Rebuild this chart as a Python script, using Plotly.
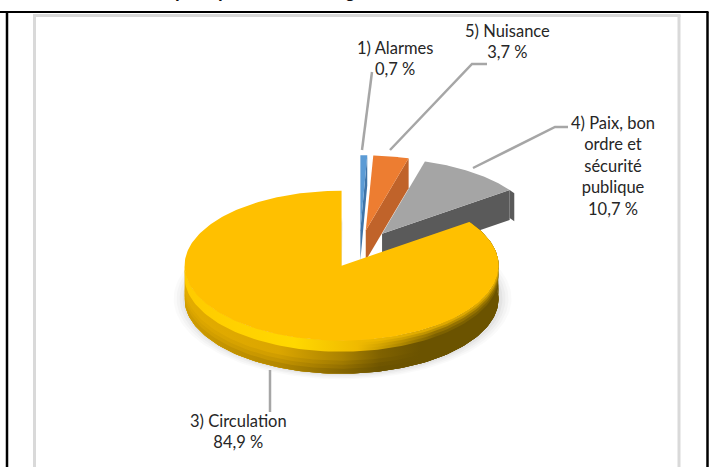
import numpy as np
import plotly.graph_objects as go

# ---- data ----
categories = ["1) Alarmes", "5) Nuisance", "4) Paix, bon<br>ordre et<br>sécurité<br>publique", "3) Circulation"]
values = [0.7, 3.7, 10.7, 84.9]
value_labels = ["0,7 %", "3,7 %", "10,7 %", "84,9 %"]
top_colors = ["#5B9BD5", "#ED7D31", "#A5A5A5", "#FFC000"]
side_colors = ["#3F74A8", "#C0632A", "#5A5A5A", "#6B5300"]

# ---- projection of the tilted pie onto the page ----
CX, CY = 359.5, 249.0   # pie centre before explosion
A, B = 157.0, 75.0      # ellipse semi-axes
DEPTH = 30.0
EXPLODE = 0.25

fig = go.Figure()


def pt(theta, cx, cy, r=1.0, dy=0.0):
    t = np.radians(theta)
    return cx + r * A * np.sin(t), cy - r * B * np.cos(t) + dy


def poly(xs, ys, color=None, grad=None):
    kw = dict(fillgradient=grad) if grad else dict(fillcolor=color)
    fig.add_trace(go.Scatter(x=list(xs) + [xs[0]], y=list(ys) + [ys[0]], mode="lines",
                             line=dict(width=0, color="rgba(0,0,0,0)"), fill="toself",
                             hoverinfo="skip", showlegend=False, **kw))


def band(t0, t1, cx, cy, d0, d1, color=None, grad=None):
    th = np.linspace(t0, t1, 120)
    x0, y0 = pt(th, cx, cy, dy=d0)
    x1, y1 = pt(th[::-1], cx, cy, dy=d1)
    poly(np.r_[x0, x1], np.r_[y0, y1], color, grad)


# slice angles
edges = np.r_[0, np.cumsum(values)] * 3.6
slices = []
for i in range(len(values)):
    t0, t1 = edges[i], edges[i + 1]
    mid = np.radians((t0 + t1) / 2)
    cx = CX + EXPLODE * A * np.sin(mid)
    cy = CY - EXPLODE * B * np.cos(mid)
    slices.append((t0, t1, cx, cy))

# soft shadow under the big slice
t0, t1, cx, cy = slices[3]
for grow, alpha in [(12, .018), (9, .022), (6, .028), (3, .035)]:
    th = np.linspace(t0, t1, 160)
    x, y = pt(th, cx + 1, cy, r=1 + grow / A, dy=DEPTH + 3)
    poly(np.r_[x, cx], np.r_[y, cy + DEPTH], f"rgba(0,0,0,{alpha})")

# side walls of the three small slices: cut face along the trailing edge
for i in [2, 0, 1]:
    t0, t1, cx, cy = slices[i]
    xe, ye = pt(t1, cx, cy)
    poly([cx, xe, xe, cx], [cy, ye, ye + DEPTH, cy + DEPTH], side_colors[i])
    if i == 2:
        band(t1, t1 + 3, cx, cy, 0, DEPTH - 2, side_colors[i])
    th = np.linspace(t0, t1, 60)
    x, y = pt(th, cx, cy)
    poly(np.r_[cx, x], np.r_[cy, y], top_colors[i])

# big slice: wall with soft darkening to the foot, soft bevel steps, top
t0, t1, cx, cy = slices[3]
for d_top, scale in [
    (0, [[0, "#E3AC00"], [.3, "#DBA600"], [.5, "#AC8300"], [.62, "#806200"], [.75, "#6B5300"], [1, "#6B5300"]]),
    (20, [[0, "#DEA800"], [.3, "#D09D00"], [.5, "#A07A00"], [.62, "#785C00"], [.75, "#6B5300"], [1, "#6B5300"]]),
    (24, [[0, "#D8A300"], [.3, "#C49400"], [.5, "#947000"], [.62, "#705600"], [.75, "#6B5300"], [1, "#6B5300"]]),
    (28, [[0, "#CF9C00"], [.3, "#B48800"], [.5, "#866600"], [.62, "#6B5300"], [1, "#6B5300"]]),
]:
    band(t0, 270, cx, cy, d_top, DEPTH + 3, grad=dict(type="horizontal", colorscale=scale))
for d1, right in [(11, "#7D6100"), (8, "#957200"), (5, "#B98E00"), (2.5, "#DDA800")]:
    bevel = dict(type="horizontal",
                 colorscale=[[0, "#FFCB00"], [.35, "#FFD800"], [.55, "#F0BA00"], [.8, right], [1, right]])
    band(t0, 270, cx, cy, 0, d1, grad=bevel)
th = np.linspace(t0, t1, 240)
x, y = pt(th, cx, cy)
poly(np.r_[cx, x], np.r_[cy, y], top_colors[3])

# ---- furniture, leaders, labels ----
GREY = "#D9D9D9"
LEAD = "#A6A6A6"
shapes = [
    dict(type="line", x0=34.5, x1=34.5, y0=15, y1=467, line=dict(color=GREY, width=3)),
    dict(type="line", x0=679, x1=679, y0=15, y1=467, line=dict(color=GREY, width=3)),
    dict(type="line", x0=33, x1=680.5, y0=15.5, y1=15.5, line=dict(color=GREY, width=3)),
    dict(type="line", x0=7, x1=7, y0=12, y1=467, line=dict(color="black", width=2.5)),
    dict(type="line", x0=707.5, x1=707.5, y0=12, y1=467, line=dict(color="black", width=2.5)),
    dict(type="line", x0=0, x1=708.5, y0=12, y1=12, line=dict(color="black", width=2)),
]
leaders = [[(362, 150), (372, 72)],
           [(390, 150), (472, 64), (487, 64)],
           [(473, 168), (555, 127), (568, 127)],
           [(270, 370), (270, 412)]]
for pts in leaders:
    path = "M" + " L".join(f"{a},{b}" for a, b in pts)
    shapes.append(dict(type="path", path=path, line=dict(color=LEAD, width=2.5)))

FONT = dict(family="Lato, Open Sans, sans-serif", size=16.5, color="#262626")
label_pos = [(395, 58), (507, 41), (613, 166), (238, 431)]
annotations = []
for cat, val, (lx, ly) in zip(categories, value_labels, label_pos):
    annotations.append(dict(x=lx, y=ly, xref="x", yref="y", text=f"{cat}<br>{val}", showarrow=False,
                            font=FONT, align="center", xanchor="center", yanchor="middle"))
# descenders of the cropped heading above the frame
for gx, ch in [(180, "p"), (223, "p"), (350, "g")]:
    annotations.append(dict(x=gx, y=2, xref="x", yref="y", text=ch, showarrow=False, xanchor="center",
                            yanchor="bottom", borderpad=0, borderwidth=0,
                            font=dict(family="Liberation Sans", size=17, color="#111111", weight="bold")))

fig.update_layout(width=713, height=467, margin=dict(l=0, r=0, t=0, b=0), showlegend=False,
                  paper_bgcolor="white", plot_bgcolor="white", shapes=shapes, annotations=annotations,
                  xaxis=dict(range=[0, 713], visible=False, fixedrange=True),
                  yaxis=dict(range=[467, 0], visible=False, fixedrange=True))
fig.write_html("out.html", config=dict(displayModeBar=False),
               post_script="document.body.style.margin='0';document.body.style.overflow='hidden';")
